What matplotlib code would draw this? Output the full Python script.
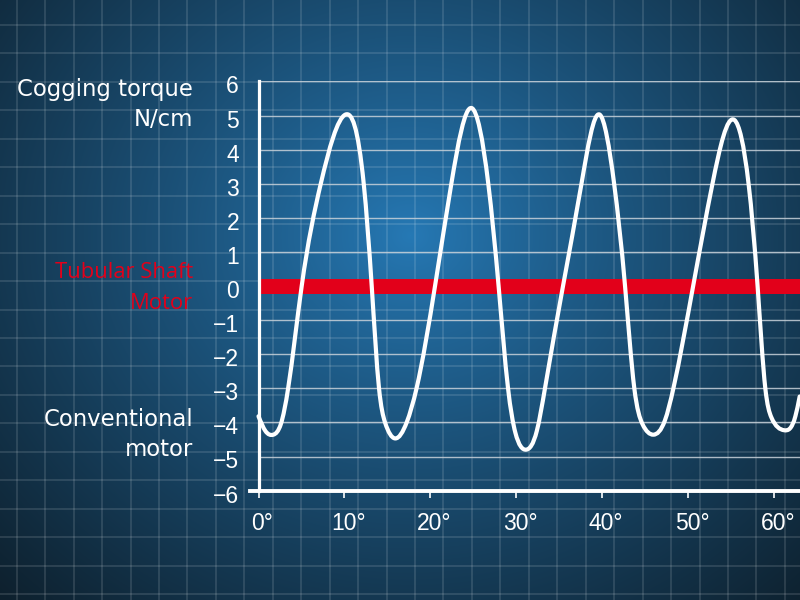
import numpy as np
import matplotlib
matplotlib.use("Agg")
import matplotlib.pyplot as plt
from matplotlib.path import Path
from matplotlib.patches import PathPatch
from matplotlib.transforms import ScaledTranslation

# ---------------- data ----------------
# troughs (with their shoulders), flank crossings of -3 / +3, zero crossings and peaks
angle_deg = [0.0, 0.8, 1.73, 2.6, 3.45, 5.03, 7.25, 10.15, 12.25, 13.18, 14.03,
             14.73, 15.9, 17.25, 18.4, 20.55, 22.45, 24.8, 26.75, 27.95, 29.05,
             29.9, 31.14, 32.4, 33.35, 35.45, 37.6, 39.7, 41.4, 42.67, 43.75,
             44.7, 45.96, 47.3, 48.3, 50.6, 52.85, 55.4, 57.05, 58.1, 59.0,
             59.7, 61.2, 62.5, 63.0]
conventional_torque = [-3.82, -4.25, -4.36, -4.05, -3.0, 0.0, 3.0, 5.03, 3.0, 0.0, -3.0,
                       -4.0, -4.47, -4.0, -3.0, 0.0, 3.0, 5.22, 3.0, 0.0, -3.0,
                       -4.3, -4.8, -4.25, -3.0, 0.0, 3.0, 5.03, 3.0, 0.0, -3.0,
                       -4.05, -4.36, -3.95, -3.0, 0.0, 3.0, 4.87, 3.0, 0.0, -3.0,
                       -3.85, -4.23, -3.82, -3.24]
tubular_angle = [0.0, 63.04]
tubular_torque = [0.0, 0.0]

y_ticks = [6, 5, 4, 3, 2, 1, 0, -1, -2, -3, -4, -5, -6]
x_ticks = [0, 10, 20, 30, 40, 50, 60]
x_tick_labels = ["0°", "10°", "20°", "30°", "40°", "50°", "60°"]

title_lines = ["Cogging torque", "N/cm"]
red_lines = ["Tubular Shaft", "Motor"]
conv_lines = ["Conventional", "motor"]

# ---------------- figure ----------------
W, H = 800, 600
fig = plt.figure(figsize=(8, 6), dpi=100)

# background gradient + blueprint grid
bg = fig.add_axes([0, 0, 1, 1], zorder=0)
yy, xx = np.mgrid[0:H, 0:W]
cx, cy, rx, ry = 410.0, 235.0, 520.0, 460.0
d = np.sqrt(((xx - cx) / rx) ** 2 + ((yy - cy) / ry) ** 2)
t = np.clip(d / 1.2, 0, 1) ** 0.9
c0 = np.array([38, 121, 181]) / 255.0
c1 = np.array([12, 26, 36]) / 255.0
img = c0[None, None, :] + t[..., None] * (c1 - c0)[None, None, :]
bg.imshow(img, extent=(0, W, H, 0), aspect="auto", interpolation="bilinear")
step = 28.45
vx = np.arange(16.7, W, step)
hy = np.arange(25.0 - step, H + step, step)
bg.vlines(vx, 0, H, colors="white", alpha=0.12, linewidth=1.4)
bg.hlines(hy, 0, W, colors="white", alpha=0.12, linewidth=1.4)
bg.set_xlim(0, W)
bg.set_ylim(H, 0)
bg.axis("off")

# main axes
px_per_deg = 8.59
x0_px = 258.5
left_px = x0_px - px_per_deg
xmax = (W - x0_px) / px_per_deg
top_px, bot_px = 81.4, 490.6
ax = fig.add_axes([left_px / W, (H - bot_px) / H, (W - left_px) / W, (bot_px - top_px) / H], zorder=1)
ax.patch.set_alpha(0)
ax.set_xlim(-1.0, xmax)
ax.set_ylim(-6, 6)

# horizontal gridlines
ax.hlines(y_ticks, 0, xmax, colors="#c9d2da", linewidth=1.0, alpha=0.85, zorder=1)

# red band: tubular shaft motor
ax.plot(tubular_angle, tubular_torque, color="#e2001a", linewidth=10.8,
        solid_capstyle="butt", zorder=2)

# smooth white curve through the read points: natural cubic spline drawn as Bezier path
xs = np.array(angle_deg)
ys = np.array(conventional_torque)
n = len(xs)
h = np.diff(xs)
A = np.zeros((n, n))
b = np.zeros(n)
A[0, 0] = 1.0
A[-1, -1] = 1.0
for i in range(1, n - 1):
    A[i, i - 1] = h[i - 1]
    A[i, i] = 2 * (h[i - 1] + h[i])
    A[i, i + 1] = h[i]
    b[i] = 6 * ((ys[i + 1] - ys[i]) / h[i] - (ys[i] - ys[i - 1]) / h[i - 1])
M = np.linalg.solve(A, b)
m = np.zeros(n)
for i in range(n - 1):
    m[i] = (ys[i + 1] - ys[i]) / h[i] - h[i] * (2 * M[i] + M[i + 1]) / 6
m[-1] = (ys[-1] - ys[-2]) / h[-1] + h[-1] * (M[-2] + 2 * M[-1]) / 6

verts = [(xs[0], ys[0])]
codes = [Path.MOVETO]
for i in range(n - 1):
    hi = h[i]
    verts += [(xs[i] + hi / 3, ys[i] + m[i] * hi / 3),
              (xs[i + 1] - hi / 3, ys[i + 1] - m[i + 1] * hi / 3),
              (xs[i + 1], ys[i + 1])]
    codes += [Path.CURVE4] * 3
curve = PathPatch(Path(verts, codes), facecolor="none", edgecolor="white",
                  linewidth=3.0, capstyle="round", joinstyle="round", zorder=3)
ax.add_patch(curve)

# spines
for s in ["top", "right"]:
    ax.spines[s].set_visible(False)
ax.spines["left"].set_position(("data", 0))
ax.spines["left"].set_color("white")
ax.spines["left"].set_linewidth(2.3)
ax.spines["bottom"].set_color("white")
ax.spines["bottom"].set_linewidth(2.8)
ax.spines["left"].set_zorder(4)
ax.spines["bottom"].set_zorder(4)

font_main = "Liberation Sans"
ax.set_yticks(y_ticks)
ax.set_yticklabels([("\u2212" + str(-v)) if v < 0 else str(v) for v in y_ticks])
ax.set_xticks(x_ticks)
ax.set_xticklabels(x_tick_labels)
ax.tick_params(axis="y", length=0, pad=14, labelcolor="white", labelsize=16.5)
ax.tick_params(axis="x", length=5, width=1.2, color="white", direction="out",
               pad=7, labelcolor="white", labelsize=16.5)
fig.canvas.draw()
for lab in ax.get_xticklabels():
    lab.set_fontfamily(font_main)
    lab.set_transform(lab.get_transform() + ScaledTranslation(4 / 100, -5 / 100, fig.dpi_scale_trans))
for lab in ax.get_yticklabels():
    lab.set_fontfamily(font_main)
    lab.set_transform(lab.get_transform() + ScaledTranslation(0, -3 / 100, fig.dpi_scale_trans))

# left-side labels
def px_text(x, y, s, **kw):
    fig.text(x / W, 1 - y / H, s, ha="right", va="baseline", **kw)

lab_font = "DejaVu Sans"
px_text(193, 96, title_lines[0], color="white", fontsize=16.4, family=lab_font)
px_text(193, 126, title_lines[1], color="white", fontsize=16.4, family=lab_font)
px_text(193, 278.5, red_lines[0], color="#e2001a", fontsize=15.8, family="Open Sans")
px_text(193, 309, red_lines[1], color="#e2001a", fontsize=15.8, family="Open Sans")
px_text(193, 426, conv_lines[0], color="white", fontsize=16.4, family=lab_font)
px_text(193, 456, conv_lines[1], color="white", fontsize=16.4, family=lab_font)

fig.savefig("out.png", dpi=100)
